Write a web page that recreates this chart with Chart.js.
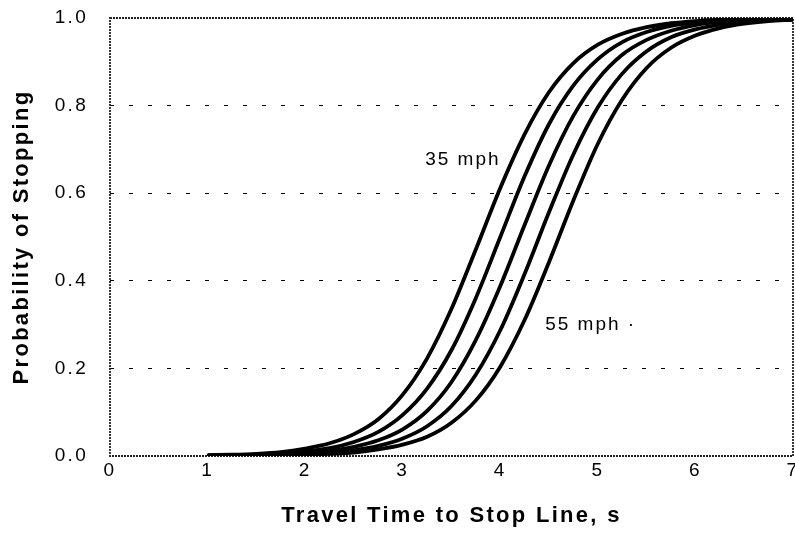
<!DOCTYPE html>
<html><head><meta charset="utf-8">
<script src="https://cdn.jsdelivr.net/npm/chart.js@4/dist/chart.umd.min.js"></script>
<style>html,body{margin:0;padding:0;overflow:hidden;background:#fff}#wrap{width:800px;height:554px;position:relative}</style>
</head><body><div id="wrap"><canvas id="c"></canvas></div>
<script>
// Travel time to stop line (s)
const travelTime = [1,1.25,1.5,1.75,2,2.25,2.5,2.75,3,3.25,3.5,3.75,4,4.25,4.5,4.75,5,5.25,5.5,5.75,6,6.25,6.5,6.75,7];
// Probability of stopping, one curve per approach speed (35 mph leftmost, 55 mph rightmost)
const mph35 = [0.002,0.003,0.005,0.009,0.017,0.029,0.050,0.084,0.140,0.223,0.336,0.472,0.612,0.735,0.831,0.897,0.939,0.964,0.979,0.988,0.993,0.996,0.998,0.999,0.999];
const mph40 = [0.001,0.002,0.003,0.006,0.011,0.018,0.032,0.055,0.094,0.154,0.242,0.361,0.500,0.639,0.758,0.846,0.906,0.945,0.968,0.982,0.990,0.994,0.997,0.998,0.999];
const mph45 = [0.001,0.001,0.002,0.004,0.007,0.012,0.021,0.036,0.061,0.103,0.169,0.265,0.388,0.528,0.664,0.777,0.860,0.916,0.950,0.971,0.984,0.991,0.995,0.997,0.998];
const mph50 = [0.000,0.001,0.001,0.002,0.004,0.008,0.013,0.023,0.040,0.068,0.114,0.186,0.287,0.416,0.557,0.689,0.796,0.873,0.924,0.956,0.974,0.985,0.992,0.995,0.997];
const mph55 = [0.000,0.001,0.001,0.002,0.003,0.005,0.008,0.015,0.026,0.044,0.076,0.127,0.204,0.311,0.443,0.584,0.713,0.814,0.886,0.932,0.960,0.977,0.987,0.993,0.996];
const seriesNames = ['35 mph','40 mph','45 mph','50 mph','55 mph'];
const seriesValues = [mph35, mph40, mph45, mph50, mph55];
// Axis ticks
const xTicks = [0,1,2,3,4,5,6,7];
const yTicks = [0,0.2,0.4,0.6,0.8,1.0];
// In-plot labels (data coordinates)
const noteTexts = ['35 mph','55 mph \u00b7'];
const noteX = [3.23, 4.46];
const noteY = [0.676, 0.299];

const FONT = '"Liberation Sans", Arial, Helvetica, sans-serif';

const datasets = seriesValues.map((vals, i) => ({
  label: seriesNames[i],
  data: travelTime.map((t, j) => ({x: t, y: vals[j]})),
  borderColor: '#000',
  borderWidth: 3.8,
  pointRadius: 0,
  fill: false,
  cubicInterpolationMode: 'monotone'
}));

const spacingPlugin = {
  id: 'spacing',
  beforeDraw(chart) { chart.ctx.letterSpacing = '2.3px'; }
};
const framePlugin = {
  id: 'frame',
  beforeDatasetsDraw(chart) {
    const {ctx, chartArea: a} = chart;
    ctx.save();
    ctx.strokeStyle = '#222';
    ctx.lineWidth = 1.8;
    ctx.setLineDash([2, 1]);
    ctx.strokeRect(a.left, a.top, a.right - a.left, a.bottom - a.top);
    ctx.restore();
  },
  afterDatasetsDraw(chart) {
    const {ctx, scales} = chart;
    ctx.save();
    ctx.letterSpacing = '2px';
    ctx.font = '19px ' + FONT;
    ctx.fillStyle = '#000';
    ctx.textAlign = 'left';
    ctx.textBaseline = 'middle';
    noteTexts.forEach((t, i) => {
      ctx.fillText(t, scales.x.getPixelForValue(noteX[i]), scales.y.getPixelForValue(noteY[i]));
    });
    ctx.restore();
  }
};

new Chart(document.getElementById('c'), {
  type: 'line',
  data: { datasets },
  options: {
    responsive: true,
    maintainAspectRatio: false,
    animation: false,
    layout: { padding: { top: 18, right: 7, left: 0, bottom: 0 } },
    plugins: { legend: { display: false }, tooltip: { enabled: false } },
    scales: {
      x: {
        type: 'linear', min: 0, max: 7,
        afterBuildTicks(s) { s.ticks = xTicks.map(v => ({value: v})); },
        afterFit(s) { s.height = 98; s.paddingLeft = 0; s.paddingRight = 0; },
        grid: { display: false, drawTicks: false },
        border: { display: false },
        ticks: { color: '#000', padding: 3, maxRotation: 0, autoSkip: false, font: { size: 19, family: FONT } },
        title: { display: true, text: 'Travel Time to Stop Line, s', color: '#000',
                 font: { size: 22, weight: 'bold', family: FONT }, padding: { top: 0, bottom: 25 } }
      },
      y: {
        min: 0, max: 1,
        afterBuildTicks(s) { s.ticks = yTicks.map(v => ({value: v})); },
        afterFit(s) { s.width = 110; s.paddingTop = 0; s.paddingBottom = 0; },
        grid: { drawTicks: false, lineWidth: 1,
                color: ctx => (ctx.tick && ctx.tick.value > 0.01 && ctx.tick.value < 0.99) ? '#000' : 'rgba(0,0,0,0)' },
        border: { display: false, dash: [4, 15] },
        ticks: { color: '#000', padding: 22, font: { size: 19, family: FONT },
                 callback: v => Number(v).toFixed(1) },
        title: { display: true, text: 'Probability of Stopping', color: '#000',
                 font: { size: 22, weight: 'bold', family: FONT }, padding: { top: 9, bottom: 0 } }
      }
    }
  },
  plugins: [spacingPlugin, framePlugin]
});
</script>
</body></html>
